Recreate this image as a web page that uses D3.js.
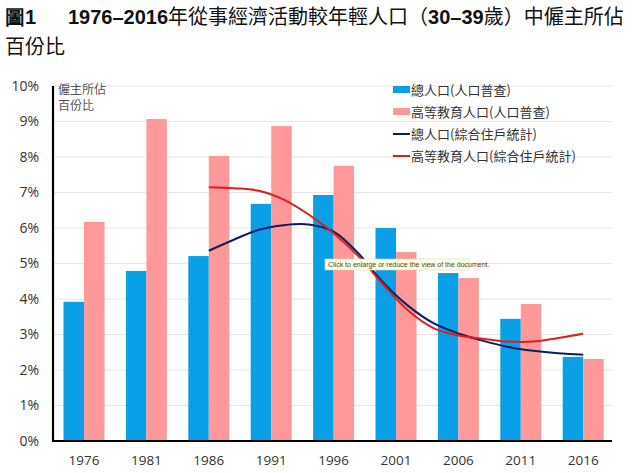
<!DOCTYPE html>
<html><head><meta charset="utf-8">
<script src="https://cdn.jsdelivr.net/npm/d3@7"></script>
<style>
html,body{margin:0;padding:0;background:#fff;}
svg{display:block;}
</style></head>
<body>
<svg id="chart" width="640" height="473"></svg>
<script>
// ---- data ----
const years = ["1976","1981","1986","1991","1996","2001","2006","2011","2016"];
const totalCensus = [3.92, 4.79, 5.21, 6.68, 6.93, 6.00, 4.73, 3.44, 2.37];
const higherCensus = [6.17, 9.07, 8.03, 8.87, 7.75, 5.32, 4.59, 3.86, 2.31];
const lineYears = [1986,1988,1990,1992,1994,1996,1998,2000,2002,2004,2006,2008,2010,2012,2014,2016];
const totalSurvey = [5.36,5.67,5.95,6.08,6.10,5.90,5.28,4.45,3.80,3.32,3.03,2.82,2.65,2.54,2.47,2.43];
const higherSurvey = [7.15,7.12,7.05,6.80,6.38,5.85,5.20,4.40,3.67,3.18,2.97,2.88,2.80,2.80,2.90,3.02];
const yTicks = [0,1,2,3,4,5,6,7,8,9,10];
const legendLabels = ["總人口(人口普查)","高等教育人口(人口普查)","總人口(綜合住戶統計)","高等教育人口(綜合住戶統計)"];
const colors = {blue:"#0aa0e8", pink:"#ff9999", navy:"#0b1f5e", red:"#e41b1b"};

const svg = d3.select("#chart");
const CJK = "'Noto Sans CJK TC','Noto Sans CJK SC',sans-serif";
const LAT = "'Liberation Sans',Arial,sans-serif";

// title
const t1 = svg.append("text").attr("x",5).attr("y",24).attr("font-size",20).attr("fill","#111");
t1.append("tspan").attr("font-family",LAT).attr("font-weight","bold").text("圖1");
t1.append("tspan").attr("x",68).attr("font-family",LAT).attr("font-weight","bold").text("1976–2016");
t1.append("tspan").attr("font-family",CJK).text("年從事經濟活動較年輕人口（");
t1.append("tspan").attr("font-family",LAT).attr("font-weight","bold").text("30–39");
t1.append("tspan").attr("font-family",CJK).text("歲）中僱主所佔");
svg.append("text").attr("x",5).attr("y",54).attr("font-size",20).attr("font-family",CJK).attr("fill","#111").text("百份比");

// scales
const AX = 53;
const x0 = d3.scaleBand().domain(years).range([52.8,614.4]).paddingInner(0.343).paddingOuter(0.1715);
const x1 = d3.scaleBand().domain(["total","higher"]).range([0,x0.bandwidth()]);
const y = d3.scaleLinear().domain([0,10]).range([441,86]);
const xYear = d3.scaleLinear().domain([1976,2016]).range([x0("1976")+x0.bandwidth()/2, x0("2016")+x0.bandwidth()/2]);

// grid
svg.append("g").selectAll("line").data(yTicks.filter(d=>d>0)).join("line")
  .attr("x1",AX).attr("x2",612).attr("y1",d=>y(d)).attr("y2",d=>y(d))
  .attr("stroke","#e6e6e6").attr("stroke-width",1);

// bars
const g = svg.append("g");
g.selectAll("rect.t").data(years).join("rect").attr("class","t")
  .attr("x",d=>x0(d)+x1("total")).attr("width",x1.bandwidth())
  .attr("y",(d,i)=>y(totalCensus[i])).attr("height",(d,i)=>y(0)-y(totalCensus[i]))
  .attr("fill",colors.blue);
g.selectAll("rect.h").data(years).join("rect").attr("class","h")
  .attr("x",d=>x0(d)+x1("higher")).attr("width",x1.bandwidth())
  .attr("y",(d,i)=>y(higherCensus[i])).attr("height",(d,i)=>y(0)-y(higherCensus[i]))
  .attr("fill",colors.pink);

// lines
const line = d3.line().x((d,i)=>xYear(lineYears[i])).y(d=>y(d)).curve(d3.curveCatmullRom);
svg.append("path").attr("d",line(totalSurvey)).attr("fill","none").attr("stroke",colors.navy).attr("stroke-width",2);
svg.append("path").attr("d",line(higherSurvey)).attr("fill","none").attr("stroke",colors.red).attr("stroke-width",2);

// axes
const yAxis = d3.axisLeft(y).tickValues(yTicks).tickFormat(d=>d+"%").tickSize(0).tickPadding(14);
const ya = svg.append("g").attr("transform",`translate(${AX},0)`).call(yAxis);
ya.select(".domain").remove();
ya.selectAll("text").attr("font-family","'Open Sans',sans-serif").attr("font-size",14).attr("fill","#333");
svg.append("line").attr("x1",AX).attr("x2",AX).attr("y1",y(10)).attr("y2",y(0)+1).attr("stroke","#000").attr("stroke-width",2.2);

const xAxis = d3.axisBottom(x0).tickSize(0).tickPadding(14);
const xa = svg.append("g").attr("transform","translate(0,441)").call(xAxis);
xa.select(".domain").remove();
xa.selectAll("text").attr("font-family","'Open Sans',sans-serif").attr("font-size",13.5).attr("fill","#333");
svg.append("line").attr("x1",AX-1).attr("x2",612).attr("y1",y(0)).attr("y2",y(0)).attr("stroke","#000").attr("stroke-width",2.2);

// axis unit label
svg.append("text").attr("x",58).attr("y",94).attr("font-family",CJK).attr("font-size",12).attr("fill","#555").text("僱主所佔");
svg.append("text").attr("x",58).attr("y",110).attr("font-family",CJK).attr("font-size",12).attr("fill","#555").text("百份比");

// legend
const lg = svg.append("g").attr("transform","translate(393,90)");
legendLabels.forEach((lab,i)=>{
  const row = lg.append("g").attr("transform",`translate(0,${i*22})`);
  if(i<2){
    row.append("rect").attr("x",0).attr("y",-4).attr("width",17).attr("height",7).attr("fill",i===0?colors.blue:colors.pink);
  } else {
    row.append("line").attr("x1",0).attr("x2",17).attr("y1",0).attr("y2",0).attr("stroke",i===2?colors.navy:colors.red).attr("stroke-width",2);
  }
  row.append("text").attr("x",18).attr("y",5).attr("font-family",CJK).attr("font-size",13).attr("fill","#333").text(lab);
});

// tooltip artifact
const tt = svg.append("g").attr("transform","translate(325,259)");
tt.append("rect").attr("width",144).attr("height",11).attr("fill","#ffffe1").attr("stroke","#d8d8c0").attr("stroke-width",0.6);
tt.append("text").attr("x",3).attr("y",8).attr("font-family",LAT).attr("font-size",7).attr("fill","#444").text("Click to enlarge or reduce the view of the document.");
</script>
</body></html>
